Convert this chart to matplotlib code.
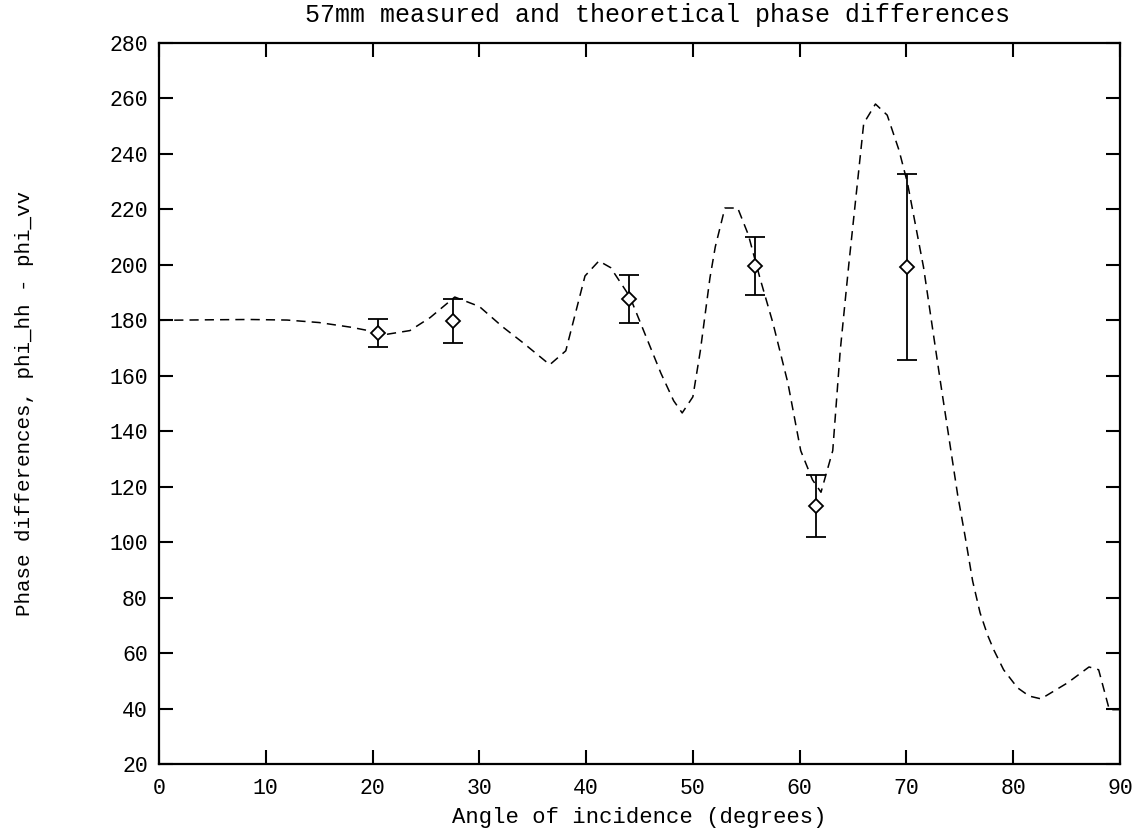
import numpy as np
import matplotlib.pyplot as plt

# theoretical curve
theory_angle = [0, 5, 8.5, 12, 15, 18, 20, 21.4, 23.5, 25.4, 27.7, 30, 32.2, 34.1,
                36.6, 38.1, 39.9, 41.2, 42.3, 44.1, 47.0, 48.2, 49.0, 50.0, 50.7,
                51.6, 52.1, 53.0, 54.2, 55.2, 56.3, 57.5, 58.9, 60.1, 61.2, 62.0,
                63.1, 63.8, 64.6, 66.0, 67.1, 68.2, 69.3, 70.1, 71.6, 73.2, 74.8,
                75.5, 76.2, 76.9, 77.6, 78.2, 79.1, 80.4, 81.5, 82.6, 85.1, 87.1,
                88.0, 88.5, 89.0, 90]
theory_phase = [180, 180.2, 180.3, 180.1, 179.2, 177.5, 176, 175, 176.3, 181,
                188.4, 185, 177.6, 171.9, 164, 169, 196, 201.4, 199, 188.5, 161,
                151, 146.6, 152.4, 169, 195.3, 206.5, 220.5, 220.5, 210.8, 195,
                179, 157.4, 133, 122.5, 118, 133, 169, 200, 251, 258, 254, 241.4,
                229.5, 199.2, 157.4, 117, 102, 86, 74.5, 66.5, 61, 54, 47.5, 44.5,
                43.5, 49.3, 55, 54, 46.8, 39.6, 39.6]

# measured values
meas_angle = [20.5, 27.5, 44.0, 55.8, 61.5, 70.1]
meas_phase = [175.5, 179.8, 187.7, 199.6, 113.0, 199.2]
meas_err = [5.0, 8.0, 8.7, 10.3, 11.3, 33.6]

plt.rcParams['font.family'] = ['Liberation Mono', 'DejaVu Sans Mono']

fig = plt.figure(figsize=(11.46, 8.32), dpi=100)
ax = fig.add_axes([0.1387, 0.0817, 0.8386, 0.8666])

ax.plot(theory_angle, theory_phase, color='black', lw=1.1, ls=(0, (6, 4)))
ax.errorbar(meas_angle, meas_phase, yerr=meas_err, fmt='D', ms=7.5,
            mfc='white', mec='black', mew=1.3, ecolor='black',
            elinewidth=1.3, capsize=7, capthick=1.3)

ax.set_xlim(0, 90)
ax.set_ylim(20, 280)
ax.set_xticks(np.arange(0, 91, 10))
ax.set_yticks(np.arange(20, 281, 20))
ax.tick_params(direction='in', length=10, width=1.5, top=True, right=True,
               labelsize=15.5, pad=8)
ax.tick_params(axis='x', pad=10)
for s in ax.spines.values():
    s.set_linewidth(1.6)

ax.set_title('57mm measured and theoretical phase differences', fontsize=18,
             pad=15, x=0.519)
ax.set_xlabel('Angle of incidence (degrees)', fontsize=16, labelpad=6)
ax.set_ylabel('Phase differences, phi_hh - phi_vv', fontsize=15, labelpad=54)

fig.savefig('out.png', dpi=100)
